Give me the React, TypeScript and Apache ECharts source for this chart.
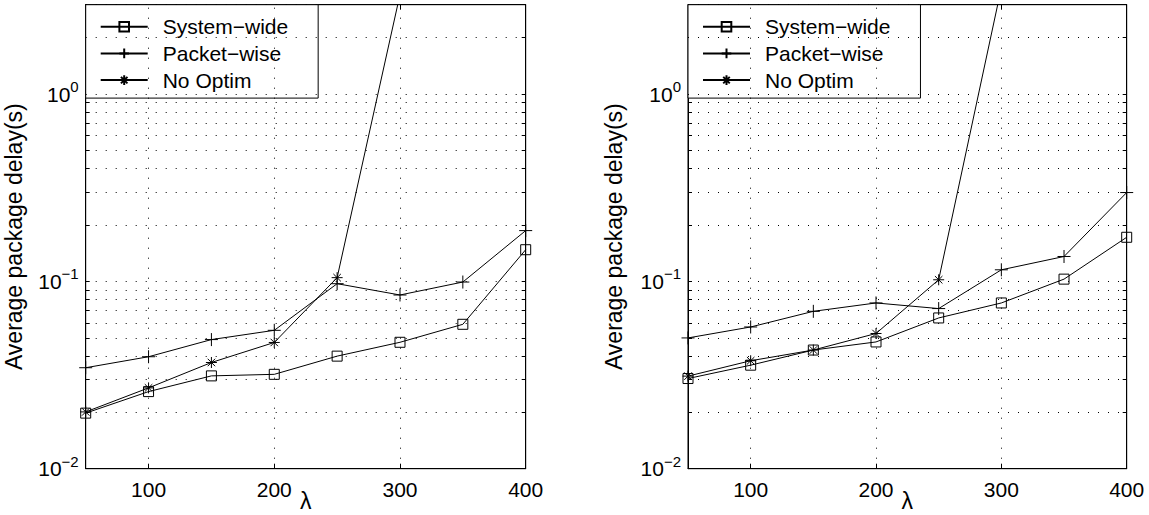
import React, { useEffect, useRef } from 'react';
import * as echarts from 'echarts';

const lambdas = [50, 100, 150, 200, 250, 300, 350, 400];
const xTickValues = [100, 200, 300, 400];
const xGridValues = [100, 200, 300];
const yLabelValues = [0.01, 0.1, 1];
const yGridValues = [0.02, 0.03, 0.04, 0.05, 0.06, 0.07, 0.08, 0.09, 0.1, 0.2, 0.3, 0.4, 0.5, 0.6, 0.7, 0.8, 0.9, 1, 2, 3];
const yTickValues = [0.01, ...yGridValues];
const seriesNames = ['System\u2212wide', 'Packet\u2212wise', 'No Optim'];

// Left panel
const leftSystemWide = [0.0198, 0.0258, 0.0313, 0.0319, 0.0399, 0.0473, 0.059, 0.1476];
const leftPacketWise = [0.0346, 0.0396, 0.0489, 0.0548, 0.0972, 0.0846, 0.0992, 0.1867];
const leftNoOptim = [0.0201, 0.027, 0.0369, 0.0472, 0.1047, 3.4, 8, 15];

// Right panel
const rightSystemWide = [0.0303, 0.0357, 0.043, 0.0475, 0.0638, 0.0767, 0.1028, 0.172];
const rightPacketWise = [0.0499, 0.0571, 0.0692, 0.0767, 0.0716, 0.1153, 0.1358, 0.298];
const rightNoOptim = [0.0312, 0.0377, 0.043, 0.0527, 0.102, 3.7, 8, 15];

const FONT = "'Liberation Sans', Arial, Helvetica, sans-serif";
const FS = 21;
const FS_LABEL = 23;

const SYM_SQUARE = 'path://M0,0L10,0L10,10L0,10Z';
const SYM_PLUS = 'path://M5,0L5,10M0,5L10,5';
const SYM_STAR = 'path://M5,0L5,10M0,5L10,5M1.6,1.6L8.4,8.4M8.4,1.6L1.6,8.4';
const symbols = [SYM_SQUARE, SYM_PLUS, SYM_STAR];
const symbolSizes = [10, 13, 11];

const panels = [
  { left: 85.7, width: 440, values: [leftSystemWide, leftPacketWise, leftNoOptim], legendLeft: 85.7, nameGap: 60 },
  { left: 688, width: 438.7, values: [rightSystemWide, rightPacketWise, rightNoOptim], legendLeft: 688, nameGap: 63 },
];

const GRID_TOP = 4.7;
const GRID_HEIGHT = 464;

function supLabel(v: number) {
  const e = Math.round(Math.log10(v));
  const s = e < 0 ? '\u2212' + String(-e) : String(e);
  return `{b|10}{s|${s}}`;
}

function buildOption() {
  const grid: any[] = [];
  const xAxis: any[] = [];
  const yAxis: any[] = [];
  const series: any[] = [];
  const legend: any[] = [];

  panels.forEach((p, gi) => {
    grid.push({
      left: p.left,
      top: GRID_TOP,
      width: p.width,
      height: GRID_HEIGHT,
      containLabel: false,
      outerBoundsMode: 'none',
      show: true,
      borderColor: '#000',
      borderWidth: 1,
      backgroundColor: '#fff',
    });
    // bottom x axis
    xAxis.push({
      type: 'value',
      gridIndex: gi,
      position: 'bottom',
      min: 50,
      max: 400,
      name: '\u03bb',
      nameLocation: 'middle',
      nameGap: 21,
      nameMoveOverlap: false,
      nameTextStyle: { fontFamily: FONT, fontSize: FS_LABEL, color: '#000' },
      axisLine: { show: true, onZero: false, lineStyle: { color: '#000', width: 1 } },
      axisTick: { show: true, inside: true, length: 5, customValues: xGridValues, lineStyle: { color: '#000' } },
      axisLabel: { customValues: xTickValues, margin: 10, fontFamily: FONT, fontSize: FS, color: '#000' },
      splitLine: { show: false },
    });
    // top x axis (ticks only)
    xAxis.push({
      type: 'value',
      gridIndex: gi,
      position: 'top',
      min: 50,
      max: 400,
      axisLine: { show: true, onZero: false, lineStyle: { color: '#000', width: 1 } },
      axisTick: { show: true, inside: true, length: 5, customValues: xGridValues, lineStyle: { color: '#000' } },
      axisLabel: { show: false },
      splitLine: { show: false },
    });
    // left y axis
    yAxis.push({
      type: 'log',
      logBase: 10,
      gridIndex: gi,
      position: 'left',
      min: 0.01,
      max: 3,
      name: 'Average package delay(s)',
      nameLocation: 'middle',
      nameGap: p.nameGap,
      nameMoveOverlap: false,
      nameTextStyle: { fontFamily: FONT, fontSize: FS_LABEL, color: '#000' },
      axisLine: { show: true, onZero: false, lineStyle: { color: '#000', width: 1 } },
      axisTick: { show: true, inside: true, length: 4, customValues: yTickValues, lineStyle: { color: '#000' } },
      axisLabel: {
        customValues: yLabelValues,
        margin: 7,
        formatter: (v: number) => supLabel(v),
        rich: {
          b: { fontFamily: FONT, fontSize: FS, color: '#000', lineHeight: 30 },
          s: { fontFamily: FONT, fontSize: 15, color: '#000', verticalAlign: 'top', lineHeight: 10 },
        },
      },
      splitLine: { show: false },
    });
    // right y axis (ticks only)
    yAxis.push({
      type: 'log',
      logBase: 10,
      gridIndex: gi,
      position: 'right',
      min: 0.01,
      max: 3,
      axisLine: { show: true, onZero: false, lineStyle: { color: '#000', width: 1 } },
      axisTick: { show: true, inside: true, length: 4, customValues: yTickValues, lineStyle: { color: '#000' } },
      axisLabel: { show: false },
      splitLine: { show: false },
    });

    p.values.forEach((vals, si) => {
      const s: any = {
        type: 'line',
        name: seriesNames[si],
        xAxisIndex: gi * 2,
        yAxisIndex: gi * 2,
        data: lambdas.map((x, i) => [x, vals[i]]),
        symbol: symbols[si],
        symbolSize: symbolSizes[si],
        showSymbol: true,
        clip: true,
        z: 3,
        lineStyle: { color: '#000', width: 1 },
        itemStyle: { color: 'rgba(255,255,255,0)', borderColor: '#000', borderWidth: 1 },
        emphasis: { disabled: true },
      };
      if (si === 0) {
        s.markLine = {
          silent: true,
          symbol: ['none', 'none'],
          label: { show: false },
          emphasis: { disabled: true },
          lineStyle: { color: '#000', width: 1, type: [1, 9] },
          data: [
            ...yGridValues.map((v) => ({ yAxis: v })),
            ...xGridValues.map((v) => ({ xAxis: v })),
          ],
        };
      }
      series.push(s);
    });

    legend.push({
      orient: 'vertical',
      left: p.legendLeft,
      top: GRID_TOP,
      data: seriesNames,
      backgroundColor: '#fff',
      borderColor: '#000',
      borderWidth: 1,
      borderRadius: 0,
      padding: [11, 30, 7, 14],
      itemGap: 4.7,
      itemWidth: 47,
      itemHeight: 12,
      selectedMode: false,
      textStyle: {
        fontFamily: FONT,
        fontSize: FS,
        color: '#000',
        lineHeight: 22,
        padding: [0, 0, 0, 10],
      },
    });
  });

  return {
    animation: false,
    backgroundColor: '#fff',
    grid,
    xAxis,
    yAxis,
    legend,
    series,
  };
}

export default function App() {
  const ref = useRef<HTMLDivElement>(null);
  useEffect(() => {
    if (!ref.current) return;
    const chart = echarts.init(ref.current, null, { renderer: 'svg' });
    chart.setOption(buildOption() as any);
    return () => {
      chart.dispose();
    };
  }, []);
  return (
    <div
      ref={ref}
      style={{ position: 'fixed', left: 0, top: 0, width: 1149, height: 515, background: '#fff' }}
    />
  );
}
